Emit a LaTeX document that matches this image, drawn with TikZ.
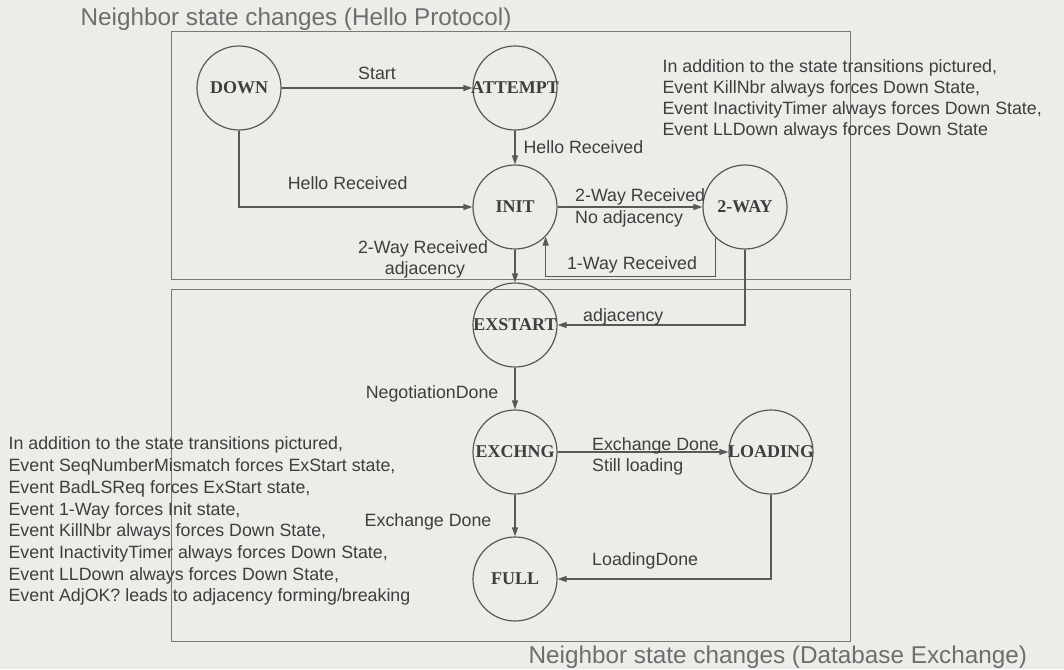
\documentclass[tikz,border=0pt]{standalone}
\usepackage{fontspec}
\setmainfont{Liberation Sans}
\newfontfamily\statefont{Liberation Serif}
\usetikzlibrary{arrows.meta,automata,positioning}

\definecolor{paper}{RGB}{236,236,233}
\definecolor{ink}{RGB}{62,62,62}
\definecolor{edgegray}{RGB}{88,88,88}
\definecolor{framegray}{RGB}{120,120,120}
\definecolor{titlegray}{RGB}{110,110,110}

\newcommand{\sname}[1]{\makebox[0pt]{#1}}

\begin{document}
\begin{tikzpicture}[x=1pt,y=1pt,->,>={Triangle[length=9pt,width=6pt]},
                    color=edgegray,text=ink,line width=1.2pt,
                    font=\fontsize{17.8}{21}\selectfont,
                    every state/.style={draw=edgegray,line width=1.2pt,minimum size=84pt,
                      inner sep=0pt,text=ink,font=\fontsize{18}{20}\selectfont\statefont\bfseries},
                    lbl/.style={inner sep=0pt},
                    note/.style={inner sep=0pt,anchor=north west,align=left},
                    frame/.style={-,draw=framegray,line width=1pt},
                    heading/.style={inner sep=0pt,anchor=base west,text=titlegray,
                      font=\fontsize{24.3}{28}\selectfont}]
   \useasboundingbox (0,0) rectangle (1064,-669);
   \fill[paper] (0,0) rectangle (1064,-669);

   % the two boxes
   \draw[frame] (171,-32) rectangle (850,-279);
   \draw[frame] (171,-289) rectangle (850,-641);
   \node[heading] (hellotitle) at (80,-25.7) {Neighbor state changes (Hello Protocol)};
   \node[heading] (dbtitle) at (528,-663.7) {Neighbor state changes (Database Exchange)};

   \node[state] (down) at (239,-88) {\sname{DOWN}};
   \node[state] (attempt) [right of=down,node distance=276pt] {\sname{ATTEMPT}};
   \node[state] (init) [below of=attempt,node distance=119pt] {\sname{INIT}};
   \node[state] (twoway) [right of=init,node distance=230pt] {\sname{2-WAY}};
   \node[state] (exstart) [below of=init,node distance=118pt] {\sname{EXSTART}};
   \node[state] (exchng) [below of=exstart,node distance=127pt] {\sname{EXCHNG}};
   \node[state] (loading) [right of=exchng,node distance=256pt] {\sname{LOADING}};
   \node[state] (full) [below of=exchng,node distance=127pt] {\sname{FULL}};

   \path
    (down) edge node[lbl,anchor=base,yshift=8.6pt] {Start} (attempt)
    (attempt) edge node[lbl,anchor=base west,xshift=8pt,yshift=-6.4pt] {Hello Received} (init)
    (init) edge node[lbl,pos=0,anchor=base west,xshift=17pt,yshift=5.6pt] {2-Way Received}
                node[lbl,pos=0,anchor=base west,xshift=17pt,yshift=-16.4pt] {No adjacency} (twoway)
    (init) edge node[lbl,anchor=base,xshift=-92pt,yshift=12.6pt] {2-Way Received}
                node[lbl,anchor=base,xshift=-90pt,yshift=-8.4pt] {adjacency} (exstart)
    (exstart) edge node[lbl,anchor=base east,xshift=-16pt,yshift=-9.9pt] {NegotiationDone} (exchng)
    (exchng) edge node[lbl,pos=0,anchor=base west,xshift=34pt,yshift=1.6pt] {Exchange Done}
                  node[lbl,pos=0,anchor=base west,xshift=34pt,yshift=-19.4pt] {Still loading} (loading)
    (exchng) edge node[lbl,anchor=base east,xshift=-23pt,yshift=-10.9pt] {Exchange Done} (full);

   \coordinate (onewaybend) at ([yshift=-40pt]init.-44);
   \draw (down) |- node[lbl,pos=0.75,anchor=base,xshift=-8pt,yshift=17.6pt] {Hello Received} (init);
   \draw (twoway.226) |- node[lbl,pos=0.75,anchor=base,xshift=1.5pt,yshift=6.6pt] {1-Way Received}
         (onewaybend) -- (init.-44);
   \draw (twoway) |- node[lbl,pos=0.75,anchor=base,xshift=-28pt,yshift=3.6pt] {adjacency} (exstart);
   \draw (loading) |- node[lbl,pos=1,anchor=base west,xshift=34pt,yshift=13.6pt] {LoadingDone} (full);

   % notes
   \node[note] (hellonote) at (662,-59.4) {In addition to the state transitions pictured,\\
     Event KillNbr always forces Down State,\\
     Event InactivityTimer always forces Down State,\\
     Event LLDown always forces Down State};
   \node[note,font=\fontsize{17.8}{21.7}\selectfont] (dbnote) at (8,-436.4)
     {In addition to the state transitions pictured,\\
     Event SeqNumberMismatch forces ExStart state,\\
     Event BadLSReq forces ExStart state,\\
     Event 1-Way forces Init state,\\
     Event KillNbr always forces Down State,\\
     Event InactivityTimer always forces Down State,\\
     Event LLDown always forces Down State,\\
     Event AdjOK? leads to adjacency forming/breaking};
\end{tikzpicture}
\end{document}
